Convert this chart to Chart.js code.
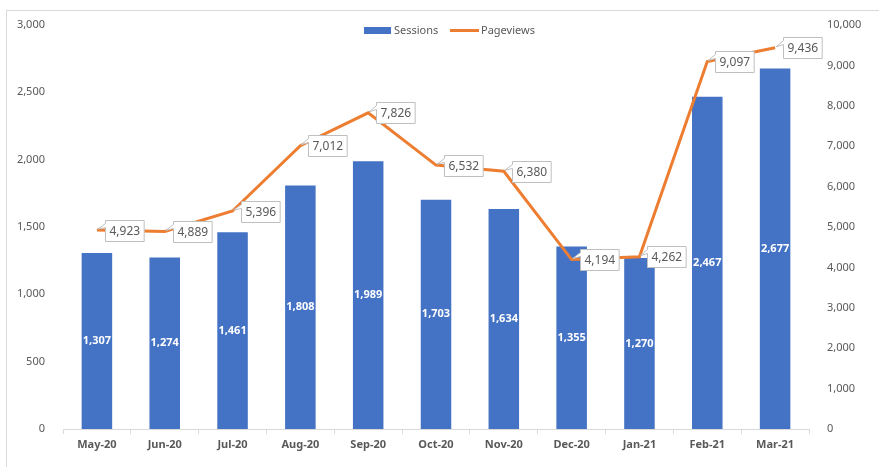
<!DOCTYPE html>
<html>
<head>
<meta charset="utf-8">
<script src="https://cdn.jsdelivr.net/npm/chart.js@4/dist/chart.umd.min.js"></script>
<style>
html,body{margin:0;padding:0;background:#fff;}
#wrap{width:879px;height:467px;position:relative;}
</style>
</head>
<body>
<div id="wrap"><canvas id="c" width="879" height="467"></canvas></div>
<script>
const categories = ['May-20','Jun-20','Jul-20','Aug-20','Sep-20','Oct-20','Nov-20','Dec-20','Jan-21','Feb-21','Mar-21'];
const sessions = [1307,1274,1461,1808,1989,1703,1634,1355,1270,2467,2677];
const pageviews = [4923,4889,5396,7012,7826,6532,6380,4194,4262,9097,9436];
const leftTicks = [0,500,1000,1500,2000,2500,3000];
const rightTicks = [0,1000,2000,3000,4000,5000,6000,7000,8000,9000,10000];

const FONT = '"Noto Sans", "Liberation Sans", sans-serif';
const BLUE = '#4472C4', ORANGE = '#ED7D31', GRAY = '#595959';
const fmt = v => v.toLocaleString('en-US');

const decor = {
  id: 'decor',
  beforeDraw(chart) {
    const ctx = chart.ctx;
    ctx.save();
    ctx.fillStyle = '#fff';
    ctx.fillRect(0, 0, chart.width, chart.height);
    ctx.strokeStyle = '#d9d9d9';
    ctx.lineWidth = 1;
    ctx.strokeRect(6.5, 10.5, chart.width + 10, chart.height + 10);
    ctx.restore();
  },
  afterDatasetsDraw(chart) {
    const ctx = chart.ctx;
    ctx.save();
    const barMeta = chart.getDatasetMeta(0);
    ctx.font = 'bold 11px ' + FONT;
    ctx.fillStyle = '#fff';
    ctx.textAlign = 'center';
    ctx.textBaseline = 'middle';
    barMeta.data.forEach((bar, i) => {
      const cy = (bar.y + bar.base) / 2;
      ctx.fillText(fmt(sessions[i]), bar.x, cy);
    });
    const lineMeta = chart.getDatasetMeta(1);
    ctx.font = '12px ' + FONT;
    lineMeta.data.forEach((pt, i) => {
      const t = fmt(pageviews[i]);
      const w = ctx.measureText(t).width + 8;
      const h = 21;
      const bx = Math.round(pt.x + 8) + 0.5;
      const by = Math.round(pt.y - h / 2) + 0.5;
      ctx.beginPath();
      ctx.moveTo(bx, by);
      ctx.lineTo(bx + w, by);
      ctx.lineTo(bx + w, by + h);
      ctx.lineTo(bx, by + h);
      ctx.lineTo(bx, by + 7);
      ctx.lineTo(pt.x + 1, pt.y - 1);
      ctx.lineTo(bx, by + 3);
      ctx.closePath();
      ctx.fillStyle = '#fff';
      ctx.fill();
      ctx.strokeStyle = '#bfbfbf';
      ctx.lineWidth = 1;
      ctx.stroke();
      ctx.fillStyle = GRAY;
      ctx.textAlign = 'left';
      ctx.textBaseline = 'middle';
      ctx.fillText(t, bx + 4, by + h / 2 + 0.5);
    });
    ctx.font = '11px ' + FONT;
    ctx.fillStyle = BLUE;
    ctx.fillRect(364, 27, 27, 7);
    ctx.fillStyle = GRAY;
    ctx.textAlign = 'left';
    ctx.textBaseline = 'middle';
    ctx.fillText('Sessions', 394, 30.5);
    ctx.strokeStyle = ORANGE;
    ctx.lineWidth = 3;
    ctx.beginPath();
    ctx.moveTo(450, 30.5);
    ctx.lineTo(479, 30.5);
    ctx.stroke();
    ctx.fillText('Pageviews', 481, 30.5);
    ctx.restore();
  }
};

new Chart(document.getElementById('c'), {
  data: {
    labels: categories,
    datasets: [
      { type: 'bar', label: 'Sessions', data: sessions, backgroundColor: BLUE, yAxisID: 'y', order: 2,
        categoryPercentage: 1.0, barPercentage: 0.45 },
      { type: 'line', label: 'Pageviews', data: pageviews, borderColor: ORANGE, borderWidth: 3,
        pointRadius: 0, tension: 0, yAxisID: 'y1', order: 1, fill: false }
    ]
  },
  options: {
    responsive: false,
    animation: false,
    layout: { padding: { top: 25, left: 0, right: 0, bottom: 0 } },
    plugins: { legend: { display: false }, tooltip: { enabled: false } },
    scales: {
      x: {
        offset: true,
        grid: { display: true, drawOnChartArea: false, offset: true, tickLength: 5, color: '#d9d9d9' },
        border: { display: true, color: '#d9d9d9' },
        ticks: { color: GRAY, font: { family: FONT, size: 11, weight: 'bold' }, padding: 4, maxRotation: 0 },
        afterFit(s) { s.height = 38; }
      },
      y: {
        position: 'left', min: 0, max: 3000,
        grid: { display: false }, border: { display: false },
        afterBuildTicks(s) { s.ticks = leftTicks.map(v => ({ value: v })); },
        ticks: { color: GRAY, font: { family: FONT, size: 11 }, padding: 10, callback: v => fmt(v) },
        afterFit(s) { s.width = 63; }
      },
      y1: {
        position: 'right', min: 0, max: 10000,
        grid: { display: false }, border: { display: false },
        afterBuildTicks(s) { s.ticks = rightTicks.map(v => ({ value: v })); },
        ticks: { color: GRAY, font: { family: FONT, size: 11 }, padding: 10, callback: v => fmt(v) },
        afterFit(s) { s.width = 70; }
      }
    }
  },
  plugins: [decor]
});
</script>
</body>
</html>
